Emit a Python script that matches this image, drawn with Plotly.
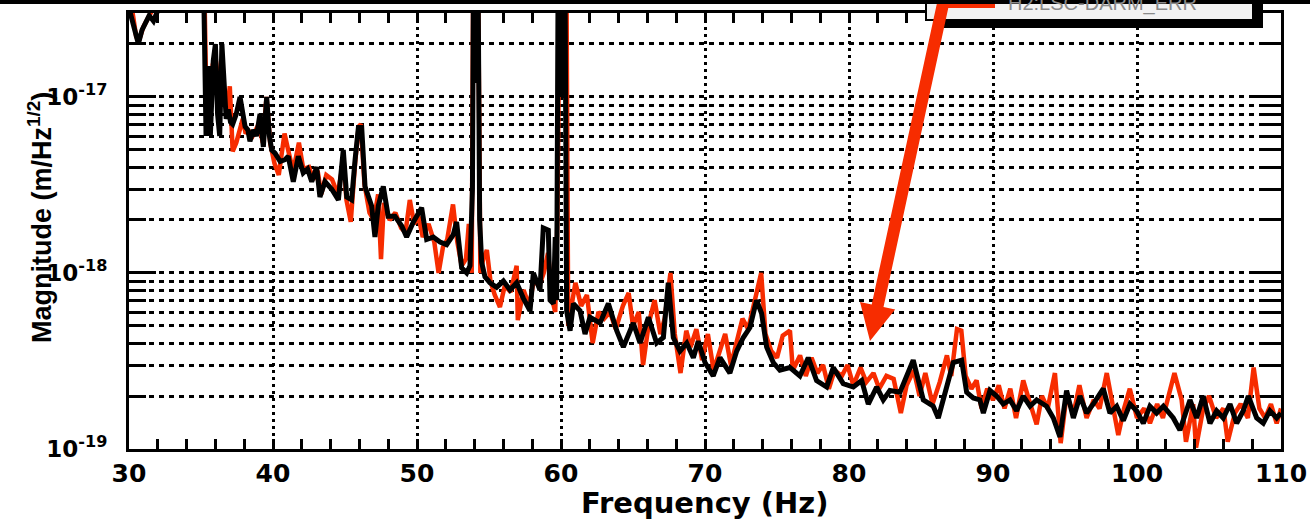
import plotly.graph_objects as go

freq_black = [30.0, 30.3, 30.65, 30.9, 31.1, 31.4, 31.7, 32.0, 32.3, 33.0, 34.0, 35.0, 35.2, 35.35, 35.5, 35.65,
              35.85, 36.0, 36.15, 36.3, 36.45, 36.6, 36.75, 36.9, 37.05, 37.2, 37.45, 37.71, 37.9, 38.06, 38.25,
              38.4, 38.64, 38.85, 39.1, 39.33, 39.56, 39.75, 39.91, 40.14, 40.5, 40.83, 41.06, 41.41, 41.76, 42.1,
              42.4, 42.69, 43.03, 43.26, 43.61, 44.07, 44.54, 44.88, 45.12, 45.46, 45.7, 45.93, 46.16, 46.39, 46.85,
              47.08, 47.31, 47.66, 48.0, 48.47, 48.94, 49.28, 49.75, 50.32, 50.67, 51.13, 51.6, 52.06, 52.52, 52.75,
              53.1, 53.45, 53.68, 53.85, 53.92, 54.0, 54.08, 54.16, 54.24, 54.35, 54.49, 54.72, 55.07, 55.53, 56.0,
              56.46, 56.92, 57.38, 57.85, 58.08, 58.54, 58.77, 59.12, 59.24, 59.47, 59.6, 59.7, 59.8, 59.88, 59.96,
              60.04, 60.12, 60.2, 60.28, 60.39, 60.63, 60.86, 61.32, 61.67,
              62.01, 62.71, 63.29, 63.87, 64.33, 65.02, 65.49, 66.07, 66.64, 67.11, 67.45, 67.8, 68.26, 68.73, 69.19,
              69.53, 70.0, 70.57, 71.04, 71.73, 72.2, 72.66, 73.12, 73.58, 73.93, 74.28, 74.74, 75.2, 75.9, 76.59,
              77.17, 77.75, 78.45, 78.91, 79.6, 80.3, 80.88, 81.34, 81.92, 82.38, 82.84, 83.54, 84.46, 85.16, 85.85,
              86.2, 86.78, 87.24, 87.82, 88.17, 88.63, 89.09, 89.33, 89.79, 90.25, 90.71, 91.18, 91.64, 92.1, 92.57,
              93.03, 93.72, 94.19, 94.65, 95.11, 95.58, 96.04, 96.5, 96.96, 97.66, 98.12, 98.59, 99.05, 99.51, 99.97,
              100.44, 100.9, 101.36, 101.83, 102.52, 102.98, 103.68, 104.14, 104.6, 105.07, 105.53, 105.99, 106.46,
              106.92, 107.38, 107.73, 108.31, 108.77, 109.23, 109.7, 110.0]
mag_black = [3.2e-17, 2.6e-17, 2.0e-17, 2.4e-17, 2.6e-17, 2.9e-17, 2.7e-17, 3.1e-17, 4e-17, 4.5e-17, 4.2e-17, 4.4e-17,
             3.5e-17, 6e-18, 1.5e-17, 6e-18, 1.6e-17, 2.0e-17, 8e-18, 6e-18, 2.0e-17, 1.2e-17, 7.5e-18, 8.5e-18,
             7.2e-18, 7e-18, 8e-18, 1.0e-17, 8e-18, 6.8e-18, 6.5e-18, 5.6e-18, 6.5e-18, 6e-18, 8e-18, 5.2e-18,
             1.0e-17, 6e-18, 5e-18, 4.8e-18, 4.3e-18, 4.4e-18, 4.6e-18, 3.3e-18, 4.6e-18, 3.7e-18, 3.9e-18, 3.3e-18,
             4.0e-18, 2.7e-18, 3.3e-18, 3.0e-18, 2.6e-18, 5.0e-18, 2.7e-18, 2.6e-18, 4.4e-18, 6.7e-18, 6.7e-18,
             3.1e-18, 2.4e-18, 1.6e-18, 2.4e-18, 3.1e-18, 2.1e-18, 2.1e-18, 1.85e-18, 1.6e-18, 1.95e-18, 2.35e-18,
             1.55e-18, 1.6e-18, 1.5e-18, 1.45e-18, 1.65e-18, 1.95e-18, 1.07e-18, 1.0e-18, 1.1e-18, 3e-18, 5e-17,
             1.2e-17, 5e-17, 1.5e-17, 5e-17, 2e-18, 1.15e-18, 9.5e-19, 8.8e-19, 8.3e-19, 9e-19, 8e-19, 8.8e-19,
             7.2e-19, 6.1e-19, 1.0e-18, 8e-19, 1.8e-18, 1.75e-18, 7e-19, 6.7e-19, 1.6e-18, 7e-19, 5e-17, 1.2e-17,
             5e-17, 1.0e-17, 5e-17, 1.2e-17, 5e-17, 6.1e-19, 4.7e-19, 6.7e-19, 6.1e-19,
             4.5e-19, 5.6e-19, 5.2e-19, 6.7e-19, 4.7e-19, 3.8e-19, 5.2e-19, 4.0e-19, 5.6e-19, 4.0e-19, 4.3e-19,
             8.8e-19, 4.3e-19, 3.6e-19, 4.0e-19, 3.3e-19, 4.1e-19, 3.1e-19, 2.6e-19, 3.3e-19, 2.7e-19, 3.6e-19,
             4.3e-19, 4.9e-19, 7.0e-19, 5.9e-19, 3.8e-19, 3.1e-19, 2.8e-19, 2.9e-19, 2.6e-19, 3.3e-19, 2.45e-19,
             2.25e-19, 2.9e-19, 2.35e-19, 2.25e-19, 2.45e-19, 1.8e-19, 2.25e-19, 1.9e-19, 2.15e-19, 2.1e-19, 3.2e-19,
             1.9e-19, 1.75e-19, 1.5e-19, 2.25e-19, 3.1e-19, 3.2e-19, 2.1e-19, 1.95e-19, 1.9e-19, 1.6e-19, 2.15e-19,
             2.0e-19, 1.8e-19, 1.9e-19, 1.65e-19, 2.0e-19, 1.75e-19, 1.9e-19, 1.75e-19, 1.5e-19, 1.17e-19, 2.15e-19,
             1.5e-19, 2.0e-19, 1.6e-19, 1.8e-19, 2.2e-19, 1.6e-19, 1.75e-19, 1.45e-19, 1.8e-19, 1.65e-19, 1.4e-19,
             1.75e-19, 1.6e-19, 1.75e-19, 1.5e-19, 1.28e-19, 1.9e-19, 1.5e-19, 2.0e-19, 1.4e-19, 1.65e-19, 1.5e-19,
             1.8e-19, 1.4e-19, 1.65e-19, 2.0e-19, 1.5e-19, 1.4e-19, 1.65e-19, 1.5e-19, 1.6e-19]

freq_red = [30.0, 30.2, 30.5, 30.7, 31.0, 31.3, 31.6, 32.0, 33.0, 34.5, 35.25, 35.4, 35.6, 35.8, 36.0, 36.2, 36.4,
            36.6, 36.8, 37.0, 37.2, 37.45, 37.7, 37.9, 38.1, 38.3, 38.5, 38.75, 39.0, 39.3, 39.55, 39.8, 40.1, 40.4,
            40.8, 41.1, 41.4, 41.8, 42.1, 42.5, 42.8, 43.1, 43.35, 43.7, 44.1, 44.5, 44.9, 45.1, 45.4, 45.7, 45.95,
            46.1, 46.35, 46.7, 47.0, 47.3, 47.5, 47.7, 48.1, 48.5, 48.9, 49.2, 49.5, 49.8, 50.1, 50.4, 50.8, 51.2,
            51.5, 51.8, 52.1, 52.5, 52.8, 53.1, 53.4, 53.6, 53.8, 53.9, 54.25, 54.4, 54.6, 54.85, 55.1, 55.4, 55.76,
            56.1, 56.5, 56.92, 57.0, 57.4, 57.8, 58.1, 58.5, 58.8, 59.1, 59.4, 59.6, 59.75, 59.9, 60.1, 60.38, 60.5,
            60.7, 61.0, 61.4, 61.8, 62.2, 62.6, 63.0, 63.4, 63.8, 64.3, 64.7, 65.0, 65.4, 65.7, 66.1, 66.5, 66.9,
            67.2, 67.6, 67.9, 68.3, 68.7, 69.0, 69.4, 69.8, 70.2, 70.6, 71.0, 71.4, 71.8, 72.2, 72.6, 73.0, 73.4,
            73.9, 74.2, 74.6, 75.0, 75.4, 75.9, 76.1, 76.6, 77.0, 77.4, 77.8, 78.2, 78.6, 79.0, 79.5, 79.9, 80.3,
            80.8, 81.2, 81.7, 82.1, 82.6, 83.1, 83.6, 84.0, 84.5, 84.9, 85.3, 85.8, 86.3, 86.8, 87.1, 87.5, 87.8,
            88.1, 88.5, 88.86, 89.2, 89.6, 90.0, 90.4, 90.8, 91.2, 91.6, 92.1, 92.5, 93.03, 93.4, 93.8, 94.3, 94.7,
            95.1, 95.6, 96.0, 96.5, 97.0, 97.4, 97.9, 98.4, 98.7, 99.1, 99.5, 100.0, 100.5, 100.9, 101.4, 101.8,
            102.6, 103.1, 103.4, 103.9, 104.1, 104.6, 105.0, 105.5, 106.0, 106.3, 106.8, 107.2, 107.7, 108.1,
            108.5, 108.9, 109.3, 109.7, 110.0]
mag_red = [3.0e-17, 3.2e-17, 2.2e-17, 2.1e-17, 2.5e-17, 2.8e-17, 3.1e-17, 3.3e-17, 4.5e-17, 4.5e-17, 3.5e-17, 7e-18,
           1.3e-17, 1.5e-17, 1.8e-17, 9e-18, 1.6e-17, 1.1e-17, 8e-18, 1.15e-17, 4.9e-18, 5.5e-18, 6.5e-18, 7.5e-18,
           6.2e-18, 6.5e-18, 5.8e-18, 6.3e-18, 7e-18, 5.5e-18, 1.0e-17, 5.5e-18, 4.2e-18, 3.6e-18, 6.2e-18, 4.8e-18,
           3.8e-18, 5.5e-18, 3.9e-18, 4.0e-18, 3.4e-18, 3.8e-18, 2.8e-18, 3.6e-18, 3.4e-18, 2.8e-18, 4.4e-18,
           2.6e-18, 1.95e-18, 4.2e-18, 6.8e-18, 7.0e-18, 3.2e-18, 2.2e-18, 2.0e-18, 2.8e-18, 1.2e-18, 2.5e-18,
           2.0e-18, 2.2e-18, 1.8e-18, 1.7e-18, 2.6e-18, 1.9e-18, 2.1e-18, 1.6e-18, 1.9e-18, 1.5e-18, 1.0e-18,
           1.4e-18, 1.55e-18, 2.45e-18, 1.5e-18, 1.1e-18, 1.2e-18, 1.9e-18, 1.0e-18, 4e-17, 4e-17, 1.0e-18, 1.2e-18,
           1.35e-18, 9e-19, 7.5e-19, 6.4e-19, 8.5e-19, 7.8e-19, 1.1e-18, 5.4e-19, 8e-19, 6.5e-19, 9e-19, 8.5e-19,
           1.0e-18, 1.3e-18, 7e-19, 6.0e-19, 2e-18, 4.5e-17, 1.5e-17, 4.5e-17, 5e-19, 6.5e-19, 8.8e-19, 6.5e-19,
           7.5e-19, 4.0e-19, 6.0e-19, 5.5e-19, 6.0e-19, 4.8e-19, 6.5e-19, 7.7e-19, 5.0e-19, 6.0e-19, 3.0e-19,
           5.2e-19, 7.0e-19, 4.5e-19, 5.5e-19, 1.0e-18, 4.5e-19, 2.7e-19, 4.7e-19, 3.8e-19, 4.8e-19, 3.2e-19,
           4.5e-19, 2.8e-19, 3.6e-19, 4.5e-19, 3.0e-19, 4.2e-19, 5.5e-19, 4.8e-19, 6.8e-19, 1.0e-18, 4.5e-19,
           3.6e-19, 3.3e-19, 4.4e-19, 4.7e-19, 2.8e-19, 3.4e-19, 2.6e-19, 3.3e-19, 2.7e-19, 3.0e-19, 2.2e-19,
           2.8e-19, 2.6e-19, 3.0e-19, 2.3e-19, 2.9e-19, 2.4e-19, 2.7e-19, 2.2e-19, 2.6e-19, 2.5e-19, 1.6e-19,
           2.3e-19, 2.8e-19, 2.0e-19, 2.7e-19, 1.8e-19, 2.4e-19, 3.4e-19, 2.6e-19, 4.8e-19, 4.7e-19, 2.6e-19,
           2.2e-19, 2.45e-19, 1.7e-19, 2.2e-19, 1.9e-19, 2.3e-19, 1.7e-19, 2.2e-19, 1.5e-19, 2.45e-19, 1.9e-19,
           1.38e-19, 2.0e-19, 1.7e-19, 2.7e-19, 1.08e-19, 2.0e-19, 1.6e-19, 2.3e-19, 1.5e-19, 1.9e-19, 1.7e-19,
           2.7e-19, 1.6e-19, 1.2e-19, 1.7e-19, 2.2e-19, 1.5e-19, 1.7e-19, 1.4e-19, 1.8e-19, 1.5e-19, 2.7e-19,
           1.9e-19, 1.1e-19, 1.8e-19, 1.02e-19, 1.7e-19, 2.0e-19, 1.5e-19, 1.7e-19, 1.1e-19, 1.6e-19, 1.8e-19,
           1.5e-19, 2.9e-19, 1.7e-19, 1.5e-19, 1.8e-19, 1.4e-19, 1.7e-19]

y_major = [1e-19, 1e-18, 1e-17]
y_major_text = ["10<sup>-19</sup>", "10<sup>-18</sup>", "10<sup>-17</sup>"]
y_minor = [2e-19, 3e-19, 4e-19, 5e-19, 6e-19, 7e-19, 8e-19, 9e-19,
           2e-18, 3e-18, 4e-18, 5e-18, 6e-18, 7e-18, 8e-18, 9e-18, 2e-17]
legend_name = "H2:LSC-DARM_ERR"

RED = "#f72c00"
W, H = 1310, 520
L, R, T, B = 129, 29, 13, 71
pw, ph = W - L - R, H - T - B


def px(x, y):
    # pixel position -> paper coords
    return (x - L) / pw, (H - B - y) / ph


fig = go.Figure()
fig.add_trace(go.Scatter(x=freq_red, y=mag_red, mode="lines", name=legend_name,
                         line=dict(color=RED, width=4.5), showlegend=False))
fig.add_trace(go.Scatter(x=freq_black, y=mag_black, mode="lines", name="black",
                         line=dict(color="black", width=5), showlegend=False))

axfont = dict(family="DejaVu Sans", size=25, color="black", weight="bold")
fig.update_xaxes(range=[30, 110], tick0=30, dtick=10, ticks="inside", ticklen=10, tickwidth=3,
                 tickcolor="black", showline=True, linewidth=3, linecolor="black", mirror="ticks",
                 showgrid=True, gridcolor="black", gridwidth=3, griddash="3px,4px", zeroline=False,
                 tickfont=axfont, ticklabelstandoff=0,
                 minor=dict(dtick=2, tick0=30, ticks="inside", ticklen=10, tickwidth=3, tickcolor="black",
                            showgrid=False))
fig.update_yaxes(type="log", range=[-19, -16.523], tickmode="array", tickvals=y_major, ticktext=y_major_text,
                 ticks="inside", ticklen=27, tickwidth=3, tickcolor="black", showline=True, linewidth=3,
                 linecolor="black", mirror="ticks", showgrid=True, gridcolor="black", gridwidth=3,
                 griddash="5px,5px", zeroline=False, ticklabelstandoff=14,
                 tickfont=dict(family="DejaVu Sans", size=23, color="black", weight="bold"),
                 minor=dict(tickmode="array", tickvals=y_minor, ticks="inside", ticklen=17, tickwidth=3,
                            tickcolor="black", showgrid=True, gridcolor="black", gridwidth=3, griddash="5px,5px"))

# legend box (cut by the top edge), arrow, top bar
shapes = []
x0, y0 = px(936, -12)
x1, y1 = px(1263, 28)
shapes.append(dict(type="rect", xref="paper", yref="paper", x0=x0, y0=y0, x1=x1, y1=y1,
                   fillcolor="black", line=dict(width=0)))
x0, y0 = px(926, -20)
x1, y1 = px(1253, 20)
shapes.append(dict(type="rect", xref="paper", yref="paper", x0=x0, y0=y0, x1=x1, y1=y1,
                   fillcolor="#f2f2f2", line=dict(color="black", width=2)))
x0, y0 = px(937, 6)
x1, y1 = px(995, 6)
shapes.append(dict(type="line", xref="paper", yref="paper", x0=x0, y0=y0, x1=x1, y1=y1,
                   line=dict(color=RED, width=4)))

arrow_px = [(940.1, -11.3), (951.9, -8.7), (883.5, 307.1), (895.2, 309.6), (870, 341),
            (860.0, 302.0), (871.7, 304.5)]
path = ""
for i, (ax_, ay_) in enumerate(arrow_px):
    qx, qy = px(ax_, ay_)
    path += ("M" if i == 0 else "L") + f"{qx:.5f},{qy:.5f} "
path += "Z"
shapes.append(dict(type="path", xref="paper", yref="paper", path=path, fillcolor=RED,
                   line=dict(width=0), layer="above"))

x0, y0 = px(0, -2)
x1, y1 = px(W, 4)
shapes.append(dict(type="rect", xref="paper", yref="paper", x0=x0, y0=y0, x1=x1, y1=y1,
                   fillcolor="black", line=dict(width=0), layer="above"))

annotations = []
lx, ly = px(1006, 3)
annotations.append(dict(text=legend_name, xref="paper", yref="paper", x=lx, y=ly, xanchor="left",
                        yanchor="middle", showarrow=False,
                        font=dict(family="Liberation Sans", size=20, color="#8a8a8a")))
tx, ty = px(705, 503)
annotations.append(dict(text="<b>Frequency (Hz)</b>", xref="paper", yref="paper", x=tx, y=ty,
                        xanchor="center", yanchor="middle", showarrow=False,
                        font=dict(family="DejaVu Sans", size=29, color="black")))
tx, ty = px(40, 218)
annotations.append(dict(text="<b>Magnitude (m/Hz<sup>1/2</sup>)</b>", xref="paper", yref="paper", x=tx, y=ty,
                        xanchor="center", yanchor="middle", showarrow=False, textangle=-90,
                        font=dict(family="Liberation Sans", size=27, color="black")))

fig.update_layout(width=W, height=H, margin=dict(l=L, r=R, t=T, b=B, autoexpand=False),
                  paper_bgcolor="white", plot_bgcolor="white", shapes=shapes, annotations=annotations,
                  showlegend=False)

fig.write_html("out.html", config={"displayModeBar": False},
               post_script="document.body.style.margin='0';")
